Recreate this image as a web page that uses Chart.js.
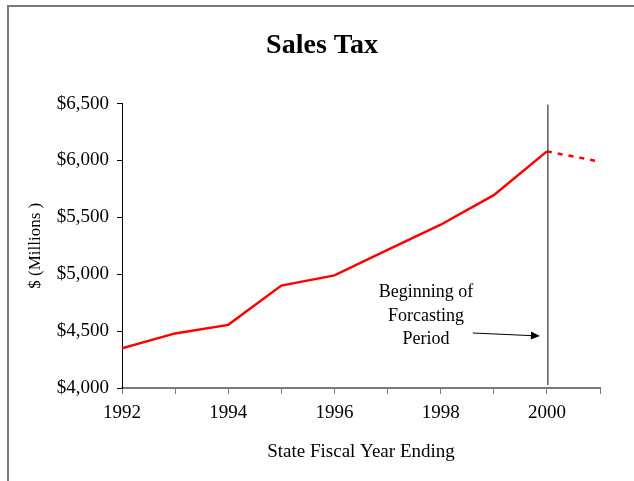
<!DOCTYPE html>
<html>
<head>
<meta charset="utf-8">
<title>Sales Tax</title>
<script src="https://cdn.jsdelivr.net/npm/chart.js@4/dist/chart.umd.min.js"></script>
<style>
  html, body { margin: 0; padding: 0; background: #fff; }
  canvas { display: block; }
</style>
</head>
<body>
<canvas id="salesTaxChart" width="634" height="481"></canvas>
<script>
// Datos: recaudación por año fiscal (millones de dólares)
const years = [1992, 1993, 1994, 1995, 1996, 1997, 1998, 1999, 2000, 2001];
const actualSales = [4350, 4480, 4555, 4900, 4990, 5215, 5435, 5695, 6080];
const forecastYears = [2000, 2001];
const forecastSales = [6080, 5990];
const yTicks = [4000, 4500, 5000, 5500, 6000, 6500];
const forecastStart = 2000;

const serif = "'Liberation Serif', 'Times New Roman', serif";

// Marco gris del gráfico, línea de inicio de pronóstico y su nota
const annotationPlugin = {
    id: 'forecastNote',
    beforeDraw(chart) {
        const ctx = chart.ctx;
        ctx.save();
        ctx.fillStyle = '#fff';
        ctx.fillRect(0, 0, chart.width, chart.height);
        ctx.strokeStyle = '#7a7a7a';
        ctx.lineWidth = 2;
        ctx.beginPath();
        ctx.moveTo(8, chart.height);
        ctx.lineTo(8, 6);
        ctx.lineTo(chart.width, 6);
        ctx.stroke();
        ctx.restore();
    },
    afterDraw(chart) {
        const ctx = chart.ctx;
        const xs = chart.scales.x;
        const area = chart.chartArea;
        const lineX = xs.getPixelForValue(forecastStart) + 1;

        ctx.save();
        // línea vertical
        ctx.strokeStyle = '#333';
        ctx.lineWidth = 1.2;
        ctx.beginPath();
        ctx.moveTo(lineX, area.top + 1);
        ctx.lineTo(lineX, area.bottom - 3);
        ctx.stroke();

        // texto
        ctx.fillStyle = '#000';
        ctx.font = '18px ' + serif;
        ctx.textAlign = 'center';
        ctx.textBaseline = 'middle';
        const tx = lineX - 122;
        ctx.fillText('Beginning of', tx, area.bottom - 96);
        ctx.fillText('Forcasting', tx, area.bottom - 72);
        ctx.fillText('Period', tx, area.bottom - 49);

        // flecha
        const x0 = lineX - 75, y0 = area.bottom - 55;
        const x1 = lineX - 8, y1 = area.bottom - 52;
        const ang = Math.atan2(y1 - y0, x1 - x0);
        ctx.strokeStyle = '#000';
        ctx.lineWidth = 1;
        ctx.beginPath();
        ctx.moveTo(x0, y0);
        ctx.lineTo(x1 - 8 * Math.cos(ang), y1 - 8 * Math.sin(ang));
        ctx.stroke();
        ctx.beginPath();
        ctx.moveTo(x1, y1);
        ctx.lineTo(x1 - 9 * Math.cos(ang) + 4 * Math.sin(ang), y1 - 9 * Math.sin(ang) - 4 * Math.cos(ang));
        ctx.lineTo(x1 - 9 * Math.cos(ang) - 4 * Math.sin(ang), y1 - 9 * Math.sin(ang) + 4 * Math.cos(ang));
        ctx.closePath();
        ctx.fill();
        ctx.restore();
    }
};

const actualPoints = actualSales.map((v, i) => ({ x: years[i], y: v }));
const forecastPoints = forecastSales.map((v, i) => ({ x: forecastYears[i], y: v }));

new Chart(document.getElementById('salesTaxChart'), {
    type: 'line',
    data: {
        datasets: [
            {
                label: 'Sales Tax',
                data: actualPoints,
                borderColor: '#ff0000',
                borderWidth: 2.5,
                pointRadius: 0,
                tension: 0,
                fill: false
            },
            {
                label: 'Forecast',
                data: forecastPoints,
                borderColor: '#ff0000',
                borderWidth: 2.5,
                borderDash: [5, 6],
                pointRadius: 0,
                tension: 0,
                fill: false
            }
        ]
    },
    options: {
        responsive: false,
        animation: false,
        events: [],
        // padding simétrico para centrar el título sobre el área útil
        layout: { padding: { left: 44, right: 34, top: 0, bottom: 0 } },
        plugins: {
            legend: { display: false },
            tooltip: { enabled: false },
            title: {
                display: true,
                text: 'Sales Tax',
                color: '#000',
                font: { family: serif, size: 28, weight: 'bold' },
                padding: { top: 29, bottom: 41 }
            }
        },
        scales: {
            x: {
                type: 'linear',
                min: years[0],
                max: years[years.length - 1],
                afterFit: (s) => { s.height = 93; },
                afterBuildTicks: (s) => { s.ticks = years.map(y => ({ value: y })); },
                ticks: {
                    autoSkip: false,
                    maxRotation: 0,
                    color: '#000',
                    padding: 8,
                    font: { family: serif, size: 19 },
                    callback: (v) => (v % 2 === 0 ? String(v) : '')
                },
                grid: {
                    drawOnChartArea: false,
                    drawTicks: true,
                    tickLength: 6,
                    color: '#7a7a7a'
                },
                border: { color: '#7a7a7a', width: 2 },
                title: {
                    display: true,
                    text: 'State Fiscal Year Ending',
                    color: '#000',
                    font: { family: serif, size: 19 },
                    padding: { top: 0, bottom: 18 }
                }
            },
            y: {
                min: yTicks[0],
                max: yTicks[yTicks.length - 1],
                afterFit: (s) => { s.width = 78; },
                afterBuildTicks: (s) => { s.ticks = yTicks.map(v => ({ value: v })); },
                ticks: {
                    color: '#000',
                    padding: 8,
                    font: { family: serif, size: 19 },
                    callback: (v) => '$' + v.toLocaleString('en-US')
                },
                grid: {
                    drawOnChartArea: false,
                    drawTicks: true,
                    tickLength: 5,
                    color: '#000'
                },
                border: { color: '#000', width: 1 },
                title: {
                    display: true,
                    text: '$ (Millions )',
                    color: '#000',
                    font: { family: serif, size: 17 },
                    padding: { top: -19, bottom: 0 }
                }
            }
        }
    },
    plugins: [annotationPlugin]
});
</script>
</body>
</html>
